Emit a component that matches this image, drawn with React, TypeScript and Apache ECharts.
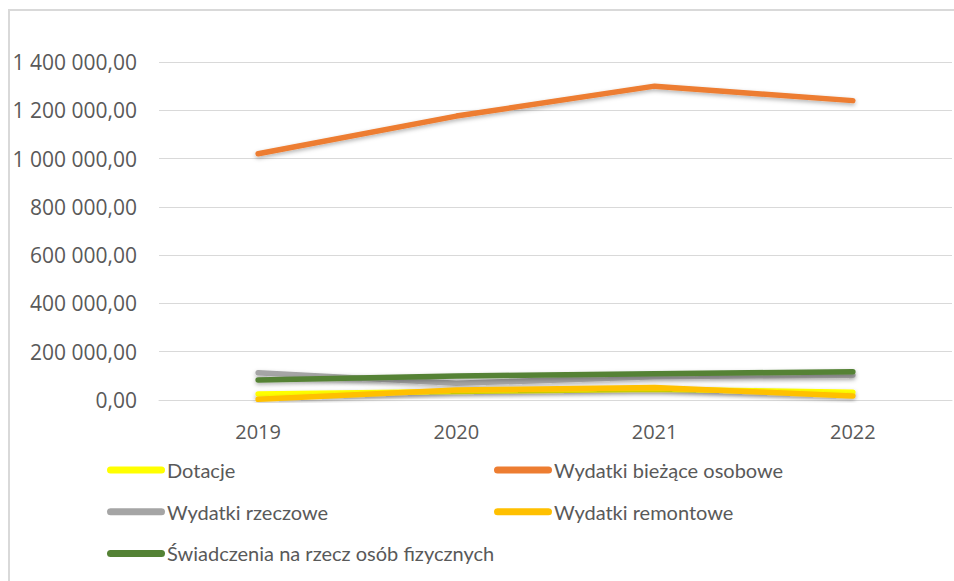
import React, { useEffect, useRef } from "react";
import * as echarts from "echarts";

const years = ["2019", "2020", "2021", "2022"];
const dotacje = [25000, 35000, 45000, 32000];
const osobowe = [1020000, 1176000, 1300000, 1240000];
const rzeczowe = [113000, 69000, 96000, 103000];
const remontowe = [3000, 41000, 52000, 17000];
const swiadczenia = [83000, 99000, 109000, 117000];

const names = [
  "Dotacje",
  "Wydatki bieżące osobowe",
  "Wydatki rzeczowe",
  "Wydatki remontowe",
  "Świadczenia na rzecz osób fizycznych",
];
const colors = ["#ffff00", "#ed7d31", "#a5a5a5", "#ffc000", "#548235"];
const values = [dotacje, osobowe, rzeczowe, remontowe, swiadczenia];

const FONT = "'Open Sans', sans-serif";
const LFONT = "Lato, 'Open Sans', sans-serif";
const TXT = "#595959";

function fmt(v: number): string {
  const s = Math.round(v).toString().replace(/\B(?=(\d{3})+(?!\d))/g, " ");
  return s + ",00";
}

const iconPath = "path://M3.5,0 H54.5 A3.5,3.5 0 0 1 54.5,7 H3.5 A3.5,3.5 0 0 1 3.5,0 Z";

export default function App() {
  const ref = useRef<HTMLDivElement>(null);
  useEffect(() => {
    if (!ref.current) return;
    const chart = echarts.init(ref.current, null, { renderer: "svg" });
    const legendCommon = {
      orient: "vertical",
      padding: 0,
      itemWidth: 58,
      itemHeight: 7,
      itemGap: 21.7,
      icon: iconPath,
      selectedMode: false,
      textStyle: { fontFamily: LFONT, fontSize: 20, color: TXT, lineHeight: 20, padding: [0, 0, 0, -3] },
    };
    chart.setOption({
      animation: false,
      backgroundColor: "#ffffff",
      graphic: [
        {
          type: "rect",
          shape: { x: 9, y: 10, width: 1000, height: 700 },
          style: { fill: "none", stroke: "#d9d9d9", lineWidth: 2 },
          silent: true,
        },
      ],
      grid: { left: 159, right: 2, top: 62, bottom: 181, containLabel: false },
      legend: [
        { ...legendCommon, left: 107, top: 460, data: [names[0], names[2], names[4]] },
        { ...legendCommon, left: 494, top: 460, data: [names[1], names[3]] },
      ],
      xAxis: {
        type: "category",
        data: years,
        boundaryGap: true,
        axisLine: { show: true, lineStyle: { color: "#d9d9d9", width: 1 } },
        axisTick: { show: false },
        axisLabel: { fontFamily: FONT, fontSize: 20, color: TXT, margin: 21 },
        splitLine: { show: false },
      },
      yAxis: {
        type: "value",
        min: 0,
        max: 1400000,
        interval: 200000,
        axisLine: { show: false },
        axisTick: { show: false },
        axisLabel: { fontFamily: FONT, fontSize: 21, color: TXT, margin: 22, formatter: (v: number) => fmt(v) },
        splitLine: { lineStyle: { color: "#d9d9d9", width: 1 } },
      },
      series: values.map((d, i) => ({
        name: names[i],
        type: "line",
        data: d,
        symbol: "none",
        showSymbol: false,
        color: colors[i],
        lineStyle: {
          color: colors[i],
          width: 5.5,
          cap: "round",
          join: "round",
          shadowColor: "rgba(0,0,0,0.3)",
          shadowBlur: 4,
          shadowOffsetY: 2,
        },
        itemStyle: { color: colors[i] },
      })),
    });
    return () => chart.dispose();
  }, []);
  return (
    <div
      ref={ref}
      style={{ position: "fixed", left: 0, top: 0, width: 954, height: 581 }}
    />
  );
}
